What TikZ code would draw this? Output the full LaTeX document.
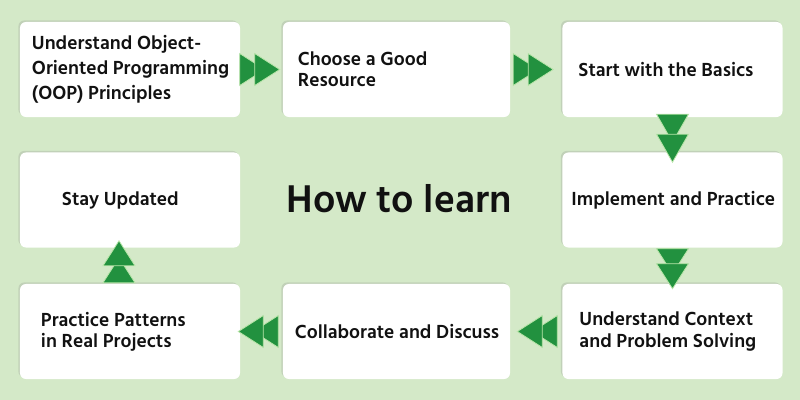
\documentclass[tikz,border=0pt]{standalone}
\usepackage{fontspec}
\setmainfont{Hind Siliguri}
\usetikzlibrary{positioning,shadows,decorations.markings}
\definecolor{bggreen}{HTML}{D4E9C8}
\definecolor{arrowfill}{HTML}{22913F}
\definecolor{arrowedge}{HTML}{B9E6A9}
\definecolor{ink}{HTML}{111111}
\tikzset{
  box/.style={fill=white, rounded corners=0.15cm, minimum width=5.5cm, minimum height=2.375cm,
    drop shadow={shadow xshift=-0.04cm, shadow yshift=0.04cm, opacity=0.22}},
  txt/.style={anchor=west, align=left, inner sep=0pt, text=ink,
    font=\bfseries\fontsize{13.8}{15}\selectfont},
  title/.style={anchor=base, inner sep=0pt, text=ink, font=\bfseries\fontsize{28.2}{34}\selectfont},
  % double triangle, tip at the end of the path: length/offset
  flow/.style args={#1/#2}{decoration={markings, mark=at position 1 with {
      \filldraw[fill=arrowfill, draw=arrowedge, line width=0.02cm] ({-#1-#2},-16) -- (-#2,0) -- ({-#1-#2},16) -- cycle;
      \filldraw[fill=arrowfill, draw=arrowedge, line width=0.02cm] (-#1,-16) -- (0,0) -- (-#1,16) -- cycle;
    }}, postaction=decorate},
  flow/.default={25/15}
}
\begin{document}
\begin{tikzpicture}[x=0.025cm, y=-0.025cm]
    % Background
    \fill[bggreen] (0,0) rectangle (800,400);
    \useasboundingbox (0,0) rectangle (800,400);

    % Boxes, top row
    \node[box] (oop) at (130,69.5) {};
    \node[box, minimum width=5.675cm] (resource) at (396.5,69.5) {};
    \node[box] (basics) at (672.5,69.5) {};
    % Boxes, middle row
    \node[box] (updated) at (130,200) {};
    \node[box] (implement) at (672.5,200) {};
    % Boxes, bottom row
    \node[box] (patterns) at (130,331.5) {};
    \node[box, minimum width=5.675cm] (collab) at (396.5,331.5) {};
    \node[box] (context) at (672.5,331.5) {};

    % Texts
    \node[txt, right=0.3cm of oop.west, font=\bfseries\fontsize{13.8}{17.8}\selectfont] (oop-t)
      {Understand Object-\\Oriented Programming\\(OOP) Principles};
    \node[txt, right=0.375cm of resource.west] (resource-t) {Choose a Good\\Resource};
    \node[txt, right=0.4cm of basics.west] (basics-t) {Start with the Basics};
    \node[txt, right=1.05cm of updated.west] (updated-t) {Stay Updated};
    \node[txt, right=0.225cm of implement.west] (implement-t) {Implement and Practice};
    \node[txt, right=0.425cm of context.west] (context-t) {Understand Context\\and Problem Solving};
    \node[txt, right=0.3cm of collab.west] (collab-t) {Collaborate and Discuss};
    \node[txt, right=0.525cm of patterns.west] (patterns-t) {Practice Patterns\\in Real Projects};

    % Title
    \node[title] (how) at (399,212) {How to learn};

    % Arrows
    \path[flow] ([xshift=0.025cm]oop.east) -- ([xshift=-0.075cm]resource.west);
    \path[flow] ([xshift=0.125cm]resource.east) -- ([xshift=-0.225cm]basics.west);
    \path[flow=28/20] ([yshift=0.05cm]basics.south) -- ([yshift=-0.25cm]implement.north);
    \path[flow] (implement.south) -- ([yshift=-0.125cm]context.north);
    \path[flow] ([xshift=-0.125cm]context.west) -- ([xshift=0.175cm]collab.east);
    \path[flow] ([xshift=-0.125cm]collab.west) -- ([xshift=-0.05cm]patterns.east);
    \path[flow=25/17] ([xshift=-0.275cm,yshift=0.075cm]patterns.north) -- ([xshift=-0.275cm,yshift=0.175cm]updated.south);
\end{tikzpicture}
\end{document}
